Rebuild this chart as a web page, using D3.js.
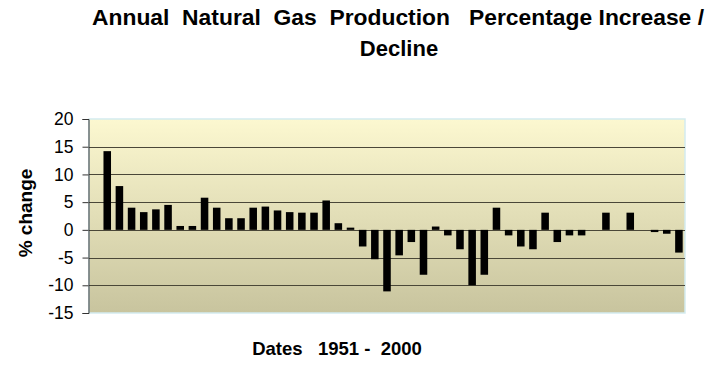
<!DOCTYPE html>
<html>
<head>
<meta charset="utf-8">
<script src="https://cdn.jsdelivr.net/npm/d3@7"></script>
<style>
body { margin: 0; background: #fff; }
svg { display: block; }
text { font-family: "Liberation Sans", Arial, sans-serif; }
</style>
</head>
<body>
<script>
"use strict";
// year-on-year % change, first year has no previous value
const years = d3.range(1952, 2001);
const change = [null, 14.2, 7.9, 4.0, 3.2, 3.7, 4.5, 0.7, 0.7, 5.8, 4.0, 2.1, 2.1, 4.0, 4.2, 3.5, 3.2,
	3.1, 3.1, 5.3, 1.2, 0.4, -3.0, -5.3, -11.1, -4.6, -2.2, -8.1, 0.6, -1.0, -3.5, -10.0, -8.1,
	4.0, -1.0, -3.0, -3.5, 3.1, -2.2, -1.0, -1.0, 0, 3.1, 0, 3.1, 0, -0.4, -0.7, -4.1];
const yTicks = [-15, -10, -5, 0, 5, 10, 15, 20];

const size = {width: 718, height: 377};
const plot = {left: 89, right: 685, top: 119, bottom: 313};

const svg = d3.select("body").append("svg").attr("width", size.width).attr("height", size.height);

const x = d3.scaleBand().domain(years).range([plot.left, plot.right]).paddingInner(0.38).paddingOuter(0.19);
const y = d3.scaleLinear().domain([-15, 20]).range([plot.bottom, plot.top]);

const grad = svg.append("defs").append("linearGradient").attr("id", "bg")
	.attr("x1", 0).attr("y1", 0).attr("x2", 0).attr("y2", 1);
grad.append("stop").attr("offset", "0%").attr("stop-color", "#fcf8d0");
grad.append("stop").attr("offset", "100%").attr("stop-color", "#c8c49e");

svg.append("rect")
	.attr("x", plot.left).attr("y", plot.top)
	.attr("width", plot.right - plot.left).attr("height", plot.bottom - plot.top)
	.attr("fill", "url(#bg)").attr("stroke", "#d3ebf0").attr("stroke-width", 1.5);

// gridlines
svg.append("g").selectAll("line")
	.data(yTicks.filter(d => d > -15 && d < 20))
	.enter().append("line")
	.attr("x1", plot.left).attr("x2", plot.right)
	.attr("y1", d => Math.round(y(d)) + 0.5).attr("y2", d => Math.round(y(d)) + 0.5)
	.attr("stroke", "#4a4738").attr("stroke-width", 1);

svg.append("g").selectAll("rect")
	.data(years.map((d, i) => ({year: d, v: change[i]})).filter(d => d.v !== null && d.v !== 0))
	.enter().append("rect")
	.attr("x", d => x(d.year))
	.attr("width", x.bandwidth())
	.attr("y", d => y(Math.max(0, d.v)))
	.attr("height", d => Math.abs(y(d.v) - y(0)))
	.attr("fill", "#000");

const yAxis = d3.axisLeft(y).tickValues(yTicks).tickSize(6).tickPadding(9)
	.tickFormat(d => d < 0 ? "-" + Math.abs(d) : d);
const ga = svg.append("g").attr("transform", "translate(" + (plot.left - 0.5) + ",0)").call(yAxis);
ga.select(".domain").attr("stroke", "#333");
ga.selectAll(".tick line").attr("stroke", "#333");
ga.selectAll(".tick text").attr("font-size", 17.5).attr("fill", "#000")
	.attr("font-family", "Liberation Sans, Arial, sans-serif");

svg.append("text")
	.attr("transform", "translate(32,213) rotate(-90)")
	.attr("text-anchor", "middle")
	.attr("font-size", 19).attr("font-weight", "bold")
	.text("% change");

svg.append("text")
	.attr("x", 398).attr("y", 25)
	.attr("text-anchor", "middle")
	.attr("font-size", 22).attr("font-weight", "bold")
	.attr("textLength", 612).attr("lengthAdjust", "spacingAndGlyphs")
	.style("white-space", "pre")
	.text("Annual  Natural  Gas  Production   Percentage Increase /");

svg.append("text")
	.attr("x", 399).attr("y", 56)
	.attr("text-anchor", "middle")
	.attr("font-size", 22).attr("font-weight", "bold")
	.text("Decline");

svg.append("text")
	.attr("x", 337).attr("y", 355)
	.attr("text-anchor", "middle")
	.attr("font-size", 18.5).attr("font-weight", "bold")
	.style("white-space", "pre")
	.text("Dates   1951 -  2000");
</script>
</body>
</html>
